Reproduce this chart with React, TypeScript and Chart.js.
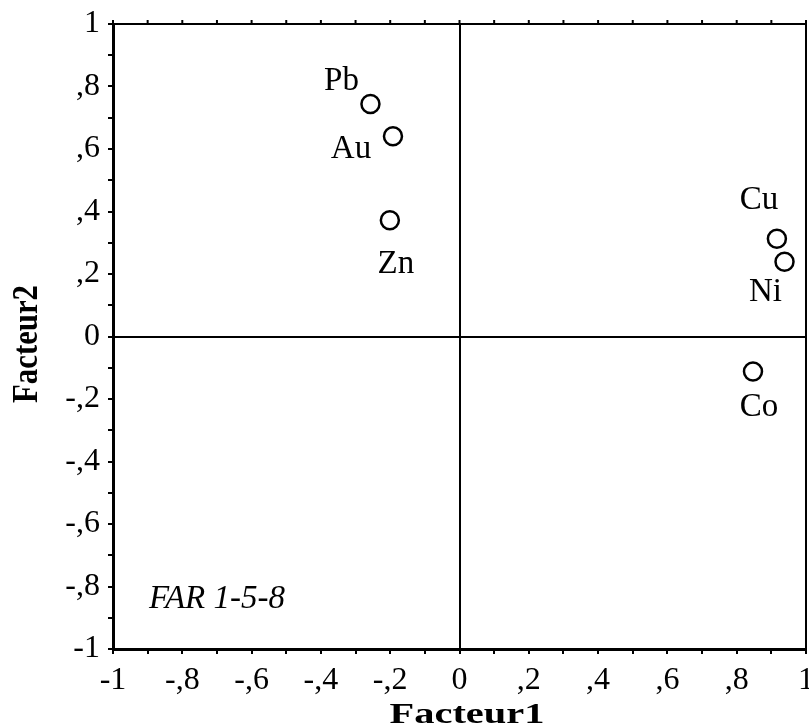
import React, { useEffect, useRef } from "react";
import { Chart, registerables } from "chart.js";

Chart.register(...registerables);

const elementNames = ["Pb", "Au", "Zn", "Cu", "Ni", "Co"];
const facteur1 = [-0.257, -0.192, -0.201, 0.916, 0.938, 0.847];
const facteur2 = [0.744, 0.641, 0.372, 0.313, 0.239, -0.112];
const tickValues = [-1, -0.8, -0.6, -0.4, -0.2, 0, 0.2, 0.4, 0.6, 0.8, 1];
const tickLabels = ["-1", "-,8", "-,6", "-,4", "-,2", "0", ",2", ",4", ",6", ",8", "1"];
const xTitle = "Facteur1";
const yTitle = "Facteur2";
const annotation = "FAR 1-5-8";

// label placement relative to each point (px)
const labelOffsets: Record<string, [number, number]> = {
  Pb: [-29, -23],
  Au: [-42, 13],
  Zn: [6, 44],
  Cu: [-18, -38],
  Ni: [-19, 31],
  Co: [6, 36],
};

const SERIF = '"Liberation Serif", "Times New Roman", serif';
const TICK_SIZE = 32;
const X_TICK_LH = 1.65;
const TICK_LEN = 5;

function fmtTick(value: number): string {
  for (let i = 0; i < tickValues.length; i++) {
    if (Math.abs(tickValues[i] - value) < 1e-6) return tickLabels[i];
  }
  return "";
}

const decorPlugin = {
  id: "decor",
  afterDatasetsDraw(chart: any) {
    const ctx = chart.ctx as CanvasRenderingContext2D;
    const meta = chart.getDatasetMeta(0);
    ctx.save();
    ctx.fillStyle = "#000";
    ctx.font = `33px ${SERIF}`;
    ctx.textAlign = "center";
    ctx.textBaseline = "middle";
    meta.data.forEach((pt: any, i: number) => {
      const name = elementNames[i];
      const off = labelOffsets[name] || [0, -20];
      ctx.fillText(name, pt.x + off[0], pt.y + off[1]);
    });
    ctx.restore();
  },
  afterDraw(chart: any) {
    const ctx = chart.ctx as CanvasRenderingContext2D;
    const { left, right, top, bottom } = chart.chartArea;
    const xs = chart.scales.x;
    ctx.save();
    ctx.strokeStyle = "#000";
    // top & right frame
    ctx.lineWidth = 2;
    ctx.beginPath();
    ctx.moveTo(left, top);
    ctx.lineTo(right, top);
    ctx.moveTo(right, top);
    ctx.lineTo(right, bottom);
    ctx.stroke();
    // small ticks on top edge
    for (let k = -10; k <= 10; k++) {
      const px = xs.getPixelForValue(k / 10);
      ctx.beginPath();
      ctx.moveTo(px, top);
      ctx.lineTo(px, top - 4);
      ctx.stroke();
    }
    ctx.fillStyle = "#000";
    // last x tick label (drawn here so it may run off the edge like the original)
    ctx.font = `${TICK_SIZE}px ${SERIF}`;
    ctx.textAlign = "center";
    ctx.textBaseline = "middle";
    const lastIdx = tickValues.length - 1;
    const lastLabelY = xs.top + TICK_LEN + (TICK_SIZE * X_TICK_LH) / 2;
    ctx.fillText(tickLabels[lastIdx], xs.getPixelForValue(tickValues[lastIdx]), lastLabelY);
    // annotation
    ctx.font = `italic 33px ${SERIF}`;
    ctx.textAlign = "left";
    ctx.textBaseline = "alphabetic";
    ctx.fillText(annotation, 149, 608);
    // x title
    ctx.font = `bold 29px ${SERIF}`;
    const wx = ctx.measureText(xTitle).width;
    ctx.save();
    ctx.translate(467, 723);
    ctx.scale(155 / wx, 1);
    ctx.textAlign = "center";
    ctx.fillText(xTitle, 0, 0);
    ctx.restore();
    // y title
    ctx.font = `bold 36px ${SERIF}`;
    const wy = ctx.measureText(yTitle).width;
    ctx.save();
    ctx.translate(37, 344);
    ctx.rotate(-Math.PI / 2);
    ctx.scale(118 / wy, 1);
    ctx.textAlign = "center";
    ctx.fillText(yTitle, 0, 0);
    ctx.restore();
    ctx.restore();
  },
};

export default function App() {
  const canvasRef = useRef<HTMLCanvasElement | null>(null);

  useEffect(() => {
    if (!canvasRef.current) return;
    const points = facteur1.map((x, i) => ({ x, y: facteur2[i] }));
    const gridColor = (ctx: any) =>
      ctx.tick && Math.abs(ctx.tick.value) < 1e-6 ? "#000" : "rgba(0,0,0,0)";
    const chart = new Chart(canvasRef.current, {
      type: "scatter",
      data: {
        datasets: [
          {
            data: points,
            pointRadius: 9,
            pointHoverRadius: 9,
            pointBorderWidth: 2.5,
            pointBorderColor: "#000",
            pointBackgroundColor: "rgba(255,255,255,0)",
            showLine: false,
            clip: false,
          },
        ],
      },
      options: {
        animation: false,
        responsive: false,
        events: [],
        layout: { autoPadding: false, padding: { top: 24, right: 3, left: 0, bottom: 0 } },
        plugins: {
          legend: { display: false },
          tooltip: { enabled: false },
          title: { display: false },
        },
        scales: {
          x: {
            type: "linear",
            min: -1,
            max: 1,
            border: { display: true, color: "#000", width: 3 },
            grid: {
              color: gridColor,
              lineWidth: 2,
              drawTicks: true,
              tickLength: TICK_LEN,
              tickColor: "#000",
              tickWidth: 2,
            },
            ticks: {
              stepSize: 0.1,
              autoSkip: false,
              maxRotation: 0,
              color: "#000",
              font: { family: SERIF, size: TICK_SIZE, lineHeight: X_TICK_LH },
              padding: 0,
              callback: (v: any) => {
                const n = Number(v);
                if (Math.abs(n - tickValues[tickValues.length - 1]) < 1e-6) return "";
                return fmtTick(n);
              },
            },
            afterFit: (scale: any) => {
              scale.height = 79;
              scale.paddingLeft = 0;
              scale.paddingRight = 0;
            },
          },
          y: {
            type: "linear",
            min: -1,
            max: 1,
            border: { display: true, color: "#000", width: 3 },
            grid: {
              color: gridColor,
              lineWidth: 2,
              drawTicks: true,
              tickLength: TICK_LEN,
              tickColor: "#000",
              tickWidth: 2,
            },
            ticks: {
              stepSize: 0.1,
              autoSkip: false,
              color: "#000",
              font: { family: SERIF, size: TICK_SIZE },
              padding: 8,
              callback: (v: any) => fmtTick(Number(v)),
            },
            afterFit: (scale: any) => {
              scale.width = 113;
              scale.paddingTop = 0;
              scale.paddingBottom = 0;
            },
          },
        },
      },
      plugins: [decorPlugin],
    });
    return () => chart.destroy();
  }, []);

  return (
    <div style={{ position: "fixed", left: 0, top: 0, width: 809, height: 728, background: "#fff" }}>
      <canvas ref={canvasRef} width={809} height={728} style={{ display: "block" }} />
    </div>
  );
}
